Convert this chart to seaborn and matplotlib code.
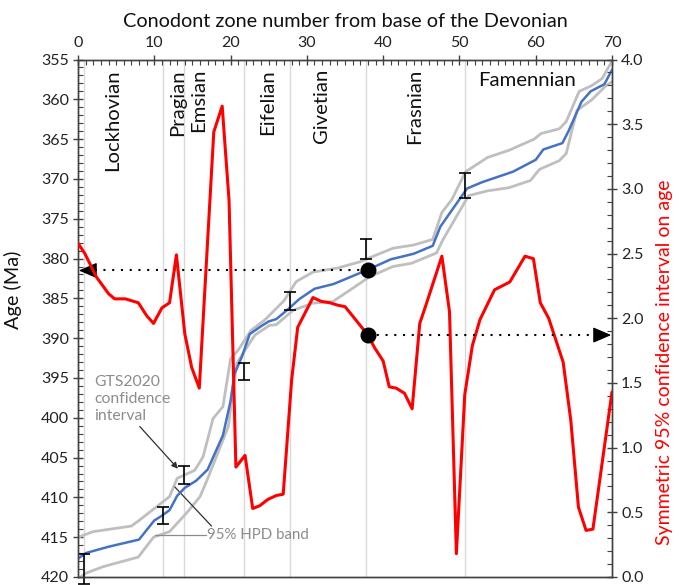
import matplotlib
matplotlib.use("Agg")
import matplotlib.pyplot as plt
import seaborn as sns
from matplotlib.ticker import MultipleLocator, FormatStrFormatter

# ---------------- data ----------------
blue_zone = [0, 1, 4, 8, 10, 11, 12, 13, 14, 15.5, 17, 19, 20, 20.5, 21.5, 22.5, 24, 25, 26, 27.5,
             29, 31, 33.5, 35.5, 38, 41, 44, 46.5, 47.5, 51, 53, 57, 60, 61, 63.5, 64.3, 66, 67.2, 69, 70]
blue_age = [417.7, 417.0, 416.2, 415.3, 412.9, 412.3, 411.6, 409.8, 408.8, 407.9, 406.5, 402.2, 397.9,
            394.5, 392.3, 389.5, 388.5, 387.9, 387.6, 386.4, 385.1, 383.8, 383.2, 382.4, 381.4, 380.1,
            379.4, 378.4, 376.0, 371.2, 370.4, 369.1, 367.6, 366.3, 365.5, 364.0, 360.3, 359.0, 358.1, 356.3]

upper_zone = [0, 2, 7, 8, 10, 12, 13, 15.3, 16.4, 17.7, 19, 20, 21, 22.7, 24.5, 27, 28.6, 30.8, 34, 37,
              39, 41.3, 44, 46.5, 47.7, 49, 50.8, 53.7, 56.5, 59.8, 60.7, 63.1, 64, 65.7, 67.3, 68.7, 70]
upper_age = [415.0, 414.3, 413.6, 412.9, 411.4, 409.9, 407.6, 406.6, 404.9, 400.1, 398.6, 392.6, 391.5,
             389.0, 387.7, 385.3, 382.9, 381.7, 381.2, 380.4, 379.6, 378.7, 378.3, 377.6, 374.2, 372.6,
             369.1, 367.3, 366.4, 365.0, 364.3, 363.7, 362.8, 359.0, 358.3, 357.4, 355.2]

lower_zone = [0.3, 1.1, 3.3, 7.9, 9.9, 12, 14.2, 16, 17.1, 19, 19.7, 20.8, 21.9, 23.2, 25.1, 26, 28.2,
              30.8, 33.4, 35.6, 38.2, 41.3, 43.7, 47, 47.8, 51.2, 53.7, 56.5, 59.3, 60.5, 63.1, 64, 65.4,
              67.3, 69.2, 70]
lower_age = [420.0, 419.5, 418.7, 417.5, 415.0, 414.3, 412.0, 409.9, 407.4, 402.8, 401.1, 393.2, 391.5,
             389.6, 388.4, 388.3, 386.5, 385.6, 385.4, 384.0, 382.3, 381.0, 380.6, 379.3, 377.7, 372.1,
             371.5, 371.1, 370.2, 368.8, 367.7, 366.8, 361.4, 360.1, 358.3, 357.8]

red_zone = [0, 0.9, 2.4, 4.0, 4.8, 6.2, 7.9, 9.0, 9.9, 11.0, 12.0, 12.9, 14.0, 14.9, 15.9, 17.8, 18.9,
            19.8, 20.7, 21.9, 22.9, 23.8, 24.9, 26.0, 26.9, 28.0, 28.8, 30.8, 31.9, 33.0, 34.1, 35.0,
            36.1, 38.0, 38.9, 40.0, 40.8, 41.7, 42.8, 43.8, 44.8, 45.6, 47.7, 48.7, 49.6, 50.7, 51.7,
            52.7, 54.6, 56.6, 57.8, 58.6, 59.7, 60.6, 61.7, 63.6, 64.6, 65.6, 66.6, 67.5, 70]
red_ci = [2.58, 2.50, 2.32, 2.19, 2.15, 2.15, 2.12, 2.02, 1.96, 2.08, 2.12, 2.49, 1.88, 1.62, 1.46, 3.44,
          3.64, 2.91, 0.85, 0.94, 0.53, 0.55, 0.60, 0.63, 0.64, 1.52, 1.93, 2.16, 2.13, 2.12, 2.10, 2.09,
          2.01, 1.87, 1.77, 1.67, 1.47, 1.46, 1.42, 1.30, 1.96, 2.10, 2.48, 2.05, 0.18, 1.41, 1.79, 1.99,
          2.22, 2.28, 2.40, 2.48, 2.46, 2.12, 2.00, 1.66, 1.21, 0.54, 0.36, 0.37, 1.43]

# GTS2020 stage-base ages with confidence intervals (at stage boundaries)
boundary_zone = [0.8, 11.1, 13.9, 21.8, 27.8, 37.8, 50.7]
gts_age = [419.0, 412.3, 407.2, 394.2, 385.3, 378.8, 370.8]
gts_err = [1.9, 1.1, 1.1, 1.1, 1.15, 1.2, 1.6]

stage_names = ["Lockhovian", "Pragian", "Emsian", "Eifelian", "Givetian", "Frasnian"]
stage_label_zone = [4.6, 13.1, 15.8, 24.9, 31.9, 44.1]

example_zone = 38
example_age = 381.5
example_ci = 1.87

# ---------------- plotting ----------------
sns.set_style("ticks")
plt.rcParams['font.family'] = ['Lato', 'DejaVu Sans']

fig = plt.figure(figsize=(6.79, 5.85), dpi=100)
ax = fig.add_axes([78/679, 1-577/585, (612-78)/679, (577-59.5)/585])
ax2 = ax.twinx()

for b in boundary_zone:
    ax.axvline(b, color="#d9d9d9", lw=1.0, zorder=0)

grey = "#bfbfbf"
sns.lineplot(x=upper_zone, y=upper_age, ax=ax, color=grey, lw=2.0, sort=False, zorder=2)
sns.lineplot(x=lower_zone, y=lower_age, ax=ax, color=grey, lw=2.0, sort=False, zorder=2)
sns.lineplot(x=blue_zone, y=blue_age, ax=ax, color="#4472c4", lw=1.8, sort=False, zorder=3)
eb = ax.errorbar(boundary_zone, gts_age, yerr=gts_err, fmt="none", ecolor="black",
                 elinewidth=1.2, capsize=4, capthick=1.2, zorder=4)
for art in eb.lines[1] + eb.lines[2]:
    art.set_clip_on(False)

sns.lineplot(x=red_zone, y=red_ci, ax=ax2, color="#ff0000", lw=2.2, sort=False, zorder=3)

# example dotted arrows
dot_style = dict(color="black", lw=1.5, linestyle=(0, (1, 3.2)))
head = dict(arrowstyle="-|>,head_length=0.7,head_width=0.3", color="black", lw=1,
            mutation_scale=16, shrinkA=0, shrinkB=0)
ax.plot([example_zone, 1.0], [example_age, example_age], zorder=5, **dot_style)
ax.annotate("", xy=(0.1, example_age), xytext=(1.5, example_age), arrowprops=head, zorder=5)
ax.plot([example_zone], [example_age], "o", color="black", ms=10.5, zorder=6)
ax2.plot([example_zone, 69.0], [example_ci, example_ci], zorder=5, **dot_style)
ax2.annotate("", xy=(69.9, example_ci), xytext=(68.5, example_ci), arrowprops=head, zorder=5)
ax2.plot([example_zone], [example_ci], "o", color="black", ms=10.5, zorder=6)

# axes limits and ticks
ax.set_xlim(0, 70)
ax.set_ylim(420, 355)
ax2.set_ylim(0, 4.0)
ax.xaxis.tick_top()
ax.xaxis.set_label_position("top")
ax.xaxis.set_major_locator(MultipleLocator(10))
ax.xaxis.set_minor_locator(MultipleLocator(1))
ax.yaxis.set_major_locator(MultipleLocator(5))
ax.yaxis.set_minor_locator(MultipleLocator(1))
ax2.yaxis.set_major_locator(MultipleLocator(0.5))
ax2.yaxis.set_minor_locator(MultipleLocator(0.1))
ax2.yaxis.set_major_formatter(FormatStrFormatter("%.1f"))

for a in (ax, ax2):
    a.tick_params(which="major", direction="inout", length=7, width=1, color="#404040",
                  labelsize=11.5, labelcolor="#222222", pad=3)
    a.tick_params(which="minor", direction="in", length=3.5, width=0.8, color="#404040")
    for s in a.spines.values():
        s.set_visible(True)
        s.set_color("#404040")
        s.set_linewidth(1.0)
ax.tick_params(axis="x", which="both", bottom=False, top=True, labelbottom=False, labeltop=True)
ax2.tick_params(axis="x", which="both", bottom=False, top=False)

ax.set_xlabel("Conodont zone number from base of the Devonian", fontsize=14.3, labelpad=7, color="#111111")
ax.set_ylabel("Age (Ma)", fontsize=14.3, color="#111111")
ax.yaxis.set_label_coords(-0.104, 0.555)
ax2.set_ylabel("Symmetric 95% confidence interval on age", fontsize=14, color="#ff0000")
ax2.yaxis.set_label_coords(1.083, 0.415)

# stage labels
for name, z in zip(stage_names, stage_label_zone):
    ax.text(z, 356.2, name, rotation=90, ha="center", va="top", fontsize=14.6, color="#111111")
ax.text(58.9, 357.6, "Famennian", ha="center", va="center", fontsize=14.6, color="#111111")

# annotations
ax.text(2.1, 394.6, "GTS2020\nconfidence\ninterval", ha="left", va="top", fontsize=11.3,
        color="#8c8c8c", linespacing=1.3)
ax.annotate("", xy=(13.1, 406.4), xytext=(8.1, 401.1),
            arrowprops=dict(arrowstyle="-|>", color="#303030", lw=0.9, mutation_scale=9,
                            shrinkA=0, shrinkB=0))
ax.text(16.9, 414.7, "95% HPD band", ha="left", va="center", fontsize=10.8, color="#8c8c8c")
ax.plot([17.5, 12.7], [413.6, 408.7], color="#303030", lw=0.9)
ax.plot([16.8, 10.1], [414.7, 414.7], color="#8c8c8c", lw=0.9)

fig.savefig("out.png", dpi=100)
